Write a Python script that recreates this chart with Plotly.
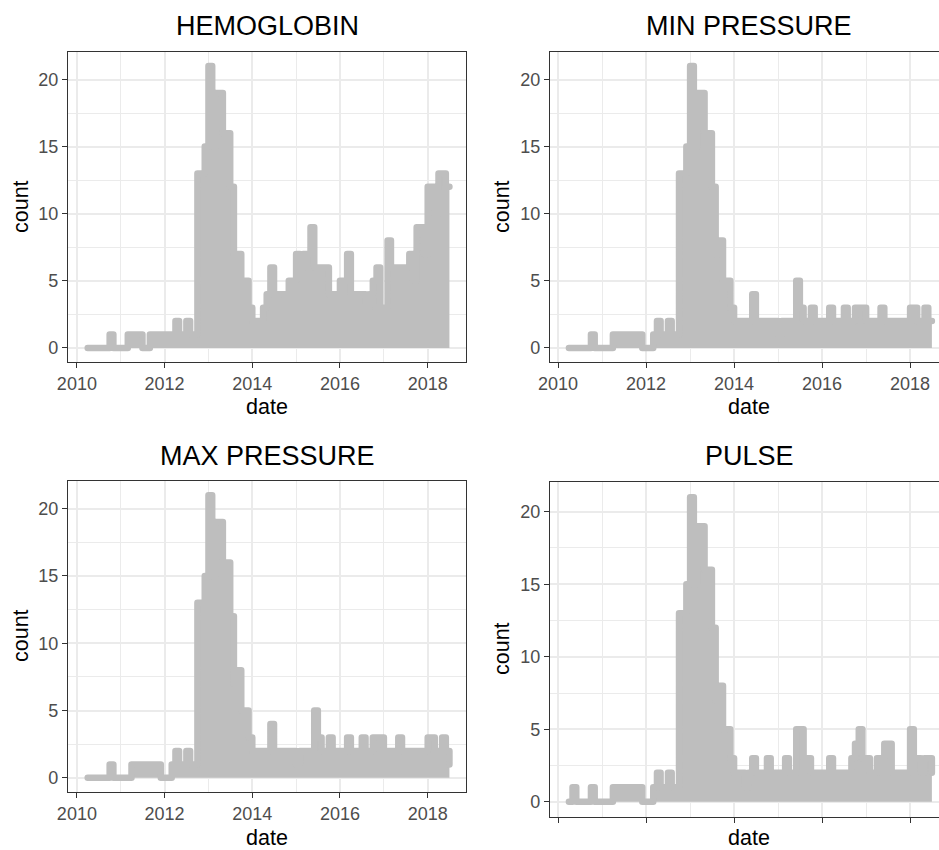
import plotly.graph_objects as go

# ---- data: monthly counts, Apr 2010 .. Jul 2018 (100 months) ----
all_months = [f"{y}-{m:02d}-01" for y in range(2010, 2019) for m in range(1, 13)]
months = all_months[3:103]

hemoglobin = [
    0, 0, 0, 0, 0, 0, 1, 0, 0,                       # 2010 Apr-Dec
    0, 0, 1, 1, 1, 1, 0, 0, 1, 1, 1, 1,              # 2011
    1, 1, 1, 2, 1, 1, 2, 1, 1, 13, 13, 15,           # 2012
    21, 15, 19, 19, 16, 16, 12, 7, 7, 5, 5, 3,       # 2013
    2, 2, 2, 3, 4, 6, 4, 4, 4, 3, 5, 5,              # 2014
    7, 6, 7, 7, 9, 6, 6, 6, 6, 4, 4, 4,              # 2015
    5, 5, 7, 4, 4, 4, 4, 3, 4, 5, 6, 3,              # 2016
    3, 8, 6, 6, 6, 6, 6, 7, 5, 9, 9, 7,              # 2017
    12, 12, 10, 13, 13, 12, 12,                      # 2018 Jan-Jul
]
min_pressure = [
    0, 0, 0, 0, 0, 0, 1, 0, 0,
    0, 0, 0, 1, 1, 1, 1, 1, 1, 1, 1, 0,
    0, 0, 1, 2, 1, 1, 2, 1, 1, 13, 13, 15,
    21, 15, 19, 19, 16, 16, 12, 7, 8, 5, 5, 3,
    2, 2, 2, 2, 2, 4, 2, 2, 2, 2, 2, 2,
    1, 2, 2, 2, 2, 5, 3, 2, 2, 3, 2, 2,
    2, 2, 3, 2, 2, 2, 3, 2, 2, 3, 3, 3,
    2, 2, 2, 2, 3, 2, 2, 2, 2, 2, 2, 2,
    3, 3, 2, 2, 3, 2, 2,
]
max_pressure = [
    0, 0, 0, 0, 0, 0, 1, 0, 0,
    0, 0, 0, 1, 1, 1, 1, 1, 1, 1, 1, 0,
    0, 0, 1, 2, 1, 1, 2, 1, 1, 13, 13, 15,
    21, 15, 19, 19, 16, 16, 12, 7, 8, 5, 5, 3,
    2, 2, 2, 2, 2, 4, 2, 2, 2, 2, 2, 2,
    1, 2, 2, 2, 2, 5, 3, 2, 2, 3, 2, 2,
    2, 2, 3, 2, 2, 2, 3, 2, 2, 3, 3, 3,
    2, 2, 2, 2, 3, 2, 2, 2, 2, 2, 2, 2,
    3, 3, 2, 2, 3, 2, 1,
]
pulse = [
    0, 1, 0, 0, 0, 0, 1, 0, 0,
    0, 0, 0, 1, 1, 1, 1, 1, 1, 1, 1, 0,
    0, 0, 1, 2, 1, 1, 2, 1, 1, 13, 13, 15,
    21, 15, 19, 19, 16, 16, 12, 7, 8, 5, 5, 3,
    2, 2, 2, 1, 2, 3, 2, 2, 2, 3, 2, 2,
    2, 2, 3, 2, 2, 5, 5, 3, 3, 2, 2, 2,
    2, 2, 3, 2, 2, 2, 2, 2, 3, 4, 5, 3,
    3, 2, 2, 3, 3, 4, 4, 2, 2, 2, 2, 2,
    5, 3, 3, 2, 3, 3, 2,
]

titles = ["HEMOGLOBIN", "MIN PRESSURE", "MAX PRESSURE", "PULSE"]
series = [hemoglobin, min_pressure, max_pressure, pulse]
y_ticks = [0, 5, 10, 15, 20]

# ---- layout geometry (pixels) ----
W, H = 939, 850
FONT = "Liberation Sans, Arial, sans-serif"
LINE_GREY = "#BEBEBE"
GRID = "#EBEBEB"
BORDER = "#333333"

# left, right, top, bottom, x-range, show x tick labels, title center x, title y, date y, count x, count y
panels = [
    (68, 466, 52, 362, ["2009-10-19", "2018-11-16"], True, 267, 26, 407, 21, 207),
    (550, 939, 52, 362, ["2009-10-26", "2018-08-29"], True, 749, 26, 407, 502, 207),
    (68, 466, 481, 792, ["2009-10-19", "2018-11-16"], True, 267, 456, 838, 21, 636),
    (550, 939, 482, 817, ["2009-10-26", "2018-08-29"], False, 749, 456, 838, 502, 649),
]

fig = go.Figure()
annotations = []
layout = {}
for i, (title, counts, p) in enumerate(zip(titles, series, panels)):
    L, R, T, B, xr, showx, tx, ty, dy, cx, cy = p
    n = "" if i == 0 else str(i + 1)
    fig.add_trace(go.Scatter(
        x=months, y=counts, mode="lines", line=dict(shape="hv", color=LINE_GREY, width=6.5),
        fill="tozeroy", fillcolor=LINE_GREY, xaxis="x" + n, yaxis="y" + n,
        showlegend=False, hoverinfo="skip",
    ))
    full_box = R < W
    layout["xaxis" + n] = dict(
        domain=[L / W, R / W], anchor="y" + n, type="date", range=xr, automargin=False,
        tick0="2010-01-01", dtick="M24", tickformat="%Y",
        ticks="outside", ticklen=5, tickwidth=1.3, tickcolor=BORDER,
        showticklabels=showx,
        tickfont=dict(size=18, color="#4D4D4D", family=FONT),
        showgrid=True, gridcolor=GRID, gridwidth=1.8,
        minor=dict(tick0="2010-01-01", dtick="M12", showgrid=True, gridcolor=GRID, gridwidth=1),
        showline=True, linecolor=BORDER, linewidth=1.3, mirror=True, zeroline=False,
    )
    layout["yaxis" + n] = dict(
        domain=[1 - B / H, 1 - T / H], anchor="x" + n, range=[-1.05, 22.05], automargin=False,
        tickvals=y_ticks, ticktext=[str(v) for v in y_ticks],
        ticks="outside", ticklen=5, tickwidth=1.3, tickcolor=BORDER,
        tickfont=dict(size=18, color="#4D4D4D", family=FONT),
        showgrid=True, gridcolor=GRID, gridwidth=1.8,
        minor=dict(tickvals=[2.5, 7.5, 12.5, 17.5], showgrid=True, gridcolor=GRID, gridwidth=1),
        showline=True, linecolor=BORDER, linewidth=1.3, mirror=full_box, zeroline=False,
    )
    annotations.append(dict(text=title, x=tx / W, y=1 - ty / H, xref="paper", yref="paper",
                            xanchor="center", yanchor="middle", showarrow=False,
                            font=dict(size=27, color="black", family=FONT)))
    annotations.append(dict(text="date", x=tx / W, y=1 - dy / H, xref="paper", yref="paper",
                            xanchor="center", yanchor="middle", showarrow=False,
                            font=dict(size=21.5, color="black", family=FONT)))
    annotations.append(dict(text="count", x=cx / W, y=1 - cy / H, xref="paper", yref="paper",
                            xanchor="center", yanchor="middle", showarrow=False, textangle=-90,
                            font=dict(size=21.5, color="black", family=FONT)))

fig.update_layout(
    width=W, height=H, margin=dict(l=0, r=0, t=0, b=0, autoexpand=False),
    paper_bgcolor="white", plot_bgcolor="white",
    annotations=annotations, showlegend=False, **layout,
)

# round line joins / caps like ggplot's geom_line
round_js = (
    "document.querySelectorAll('.scatterlayer .js-line').forEach(function(p){"
    "p.style.strokeLinejoin='round';p.style.strokeLinecap='round';});"
)
fig.write_html("out.html", post_script=round_js)
